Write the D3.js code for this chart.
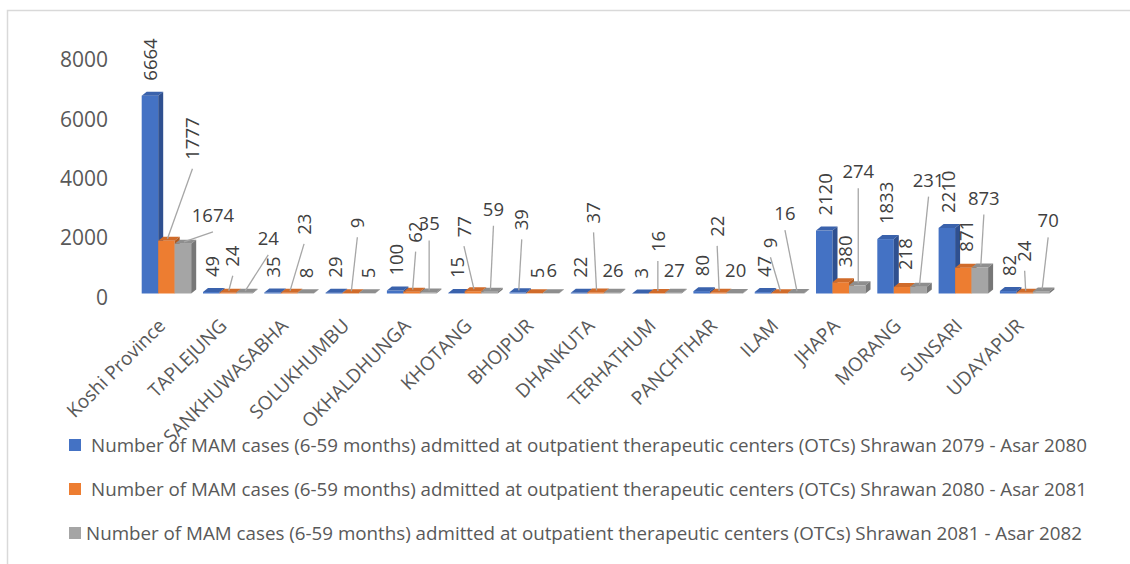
<!DOCTYPE html>
<html>
<head>
<meta charset="utf-8">
<script src="https://cdn.jsdelivr.net/npm/d3@7"></script>
<style>
  body { margin: 0; background: #fff; }
  svg { display: block; font-family: "Open Sans", "Noto Sans", sans-serif; }
  .tick text { fill: #595959; }
</style>
</head>
<body>
<div id="chart"></div>
<script>
/*global d3*/

// Districts on the x axis
const categories = ["Koshi Province", "TAPLEJUNG", "SANKHUWASABHA", "SOLUKHUMBU", "OKHALDHUNGA",
  "KHOTANG", "BHOJPUR", "DHANKUTA", "TERHATHUM", "PANCHTHAR", "ILAM", "JHAPA", "MORANG",
  "SUNSARI", "UDAYAPUR"];

const seriesNames = [
  "Number of MAM cases (6-59 months) admitted at outpatient therapeutic centers (OTCs) Shrawan 2079 - Asar 2080",
  "Number of MAM cases (6-59 months) admitted at outpatient therapeutic centers (OTCs) Shrawan 2080 - Asar 2081",
  "Number of MAM cases (6-59 months) admitted at outpatient therapeutic centers (OTCs) Shrawan 2081 - Asar 2082"
];

const cases2079 = [6664, 49, 35, 29, 100, 15, 39, 22, 3, 80, 47, 2120, 1833, 2210, 82];
const cases2080 = [1777, 24, 23, 9, 62, 77, 5, 37, 16, 22, 9, 380, 218, 871, 24];
const cases2081 = [1674, 24, 8, 5, 35, 59, 6, 26, 27, 20, 16, 274, 231, 873, 70];

const yTicks = [0, 2000, 4000, 6000, 8000];

// data label placement (Excel moved some labels by hand): shift from bar centre, lift above bar top, rotated or not
const labelDx = [
  [0, 1, 1, 1, 1, 1, 4, 1, 1, 1, 1, 1, 1, 1, 1],
  [26, 5, 15, 7, 4, -9, 3, -2, 1, -1, -9, 5, 3, 3, 0],
  [30, 24, 1, 1, 1, 4, 1, 1, 1, 1, -11, 1, 10, 4, 7]
];
const labelLift = [
  [15, 15, 15, 15, 15, 15, 62, 15, 15, 15, 15, 15, 15, 15, 15],
  [81, 26, 58, 65, 49, 54, 15, 69, 41, 56, 45, 15, 17, 16, 31],
  [22, 48, 15, 15, 62, 76, 16, 16, 16, 16, 73, 107, 100, 63, 64]
];
const labelRotated = [
  categories.map(() => true),
  categories.map(() => true),
  [false, false, true, true, false, false, false, false, false, false, false, false, false, false, false]
];

const COLORS = {
  front: ["#4472C4", "#ED7D31", "#A5A5A5"],
  top: ["#3A62AC", "#D06B2A", "#8E8E8E"],
  side: ["#2F5090", "#B05A20", "#777777"]
};

let width = 1130, height = 564;
let depthX = 5, depthY = 4;

let svg = d3.select("#chart")
  .append("svg")
  .attr("width", width)
  .attr("height", height);

svg.append("rect")
  .attr("width", width).attr("height", height)
  .attr("fill", "#fff");

// chart area frame
svg.append("rect")
  .attr("x", 7.5).attr("y", 10.5)
  .attr("width", 1200).attr("height", 700)
  .attr("fill", "none")
  .attr("stroke", "#D9D9D9")
  .attr("stroke-width", 1.5);

let series = [cases2079, cases2080, cases2081];

let x0 = d3.scaleBand()
  .domain(categories)
  .range([133, 1052.5]);

let x1 = d3.scaleBand()
  .domain([0, 1, 2])
  .range([8.7, 8.7 + 49.5]);

let y = d3.scaleLinear()
  .domain([0, 8000])
  .range([297.5, 60]);

// y axis labels only, no line
svg.append("g")
  .attr("transform", "translate(108,0)")
  .call(d3.axisLeft(y).tickValues(yTicks).tickSize(0).tickPadding(0).tickFormat(d3.format("d")))
  .call(g => g.select(".domain").remove())
  .selectAll("text")
  .style("font-size", "21px")
  .style("font-family", "'Open Sans', sans-serif");

// x axis labels rotated
svg.append("g")
  .attr("transform", "translate(0,327)")
  .call(d3.axisBottom(x0).tickSize(0).tickPadding(0))
  .call(g => g.select(".domain").remove())
  .selectAll("text")
  .attr("y", 0)
  .attr("dy", 0)
  .attr("text-anchor", "end")
  .attr("transform", "translate(3,0) rotate(-45)")
  .style("font-size", "19px")
  .style("font-family", "'Open Sans', sans-serif");

let barTop = v => y(v) - depthY;
let barBase = y(0) - depthY;

// build one flat list of bars
let bars = [];
categories.forEach((c, i) => {
  series.forEach((vals, s) => {
    bars.push({ cat: c, i: i, s: s, value: vals[i] });
  });
});

let barG = svg.append("g");

let groups = barG.selectAll("g.bar")
  .data(bars)
  .enter().append("g")
  .attr("class", "bar");

groups.each(function (d) {
  let g = d3.select(this);
  let bx = x0(d.cat) + x1(d.s);
  let bw = x1.bandwidth();
  let t = barTop(d.value);

  g.append("rect")
    .attr("x", bx).attr("y", t)
    .attr("width", bw).attr("height", Math.max(0, barBase - t))
    .attr("fill", COLORS.front[d.s]);

  g.append("polygon")
    .attr("points", [[bx, t], [bx + depthX, t - depthY], [bx + bw + depthX, t - depthY], [bx + bw, t]].join(" "))
    .attr("fill", COLORS.top[d.s]);

  g.append("polygon")
    .attr("points", [[bx + bw, t], [bx + bw + depthX, t - depthY], [bx + bw + depthX, barBase - depthY], [bx + bw, barBase]].join(" "))
    .attr("fill", COLORS.side[d.s]);
});

// leader lines for labels moved away from their bars
let leaderG = svg.append("g");
let labelG = svg.append("g");

bars.forEach(d => {
  let cx = x0(d.cat) + x1(d.s) + x1.bandwidth() / 2;
  let t = barTop(d.value);
  let lx = cx + labelDx[d.s][d.i];
  let ly = t - labelLift[d.s][d.i];
  let rot = labelRotated[d.s][d.i];

  if (labelLift[d.s][d.i] > 20) {
    leaderG.append("line")
      .attr("x1", lx).attr("y1", ly + (rot ? 9 : 10))
      .attr("x2", cx + 1).attr("y2", t - 2)
      .attr("stroke", "#A6A6A6")
      .attr("stroke-width", 1.3);
  }

  let txt = labelG.append("text")
    .text(d.value)
    .attr("fill", "#404040")
    .style("font-size", "18.5px");

  if (rot) {
    txt.attr("transform", "translate(" + lx + "," + ly + ") rotate(-90)")
      .attr("dy", "0.36em")
      .attr("text-anchor", "start");
  } else {
    txt.attr("x", lx).attr("y", ly)
      .attr("text-anchor", "middle");
  }
});

// legend
let legendRows = [
  { base: 452, tx: 91 },
  { base: 496, tx: 91 },
  { base: 540, tx: 86 }
];

let legend = svg.selectAll(".legend")
  .data(seriesNames)
  .enter().append("g")
  .attr("class", "legend");

legend.append("rect")
  .attr("x", 69)
  .attr("y", (d, i) => legendRows[i].base - 13)
  .attr("width", 12)
  .attr("height", 12)
  .attr("fill", (d, i) => COLORS.front[i]);

legend.append("text")
  .attr("x", (d, i) => legendRows[i].tx)
  .attr("y", (d, i) => legendRows[i].base)
  .attr("fill", "#595959")
  .attr("textLength", 996)
  .attr("lengthAdjust", "spacingAndGlyphs")
  .style("font-size", "18.5px")
  .text(d => d);
</script>
</body>
</html>
